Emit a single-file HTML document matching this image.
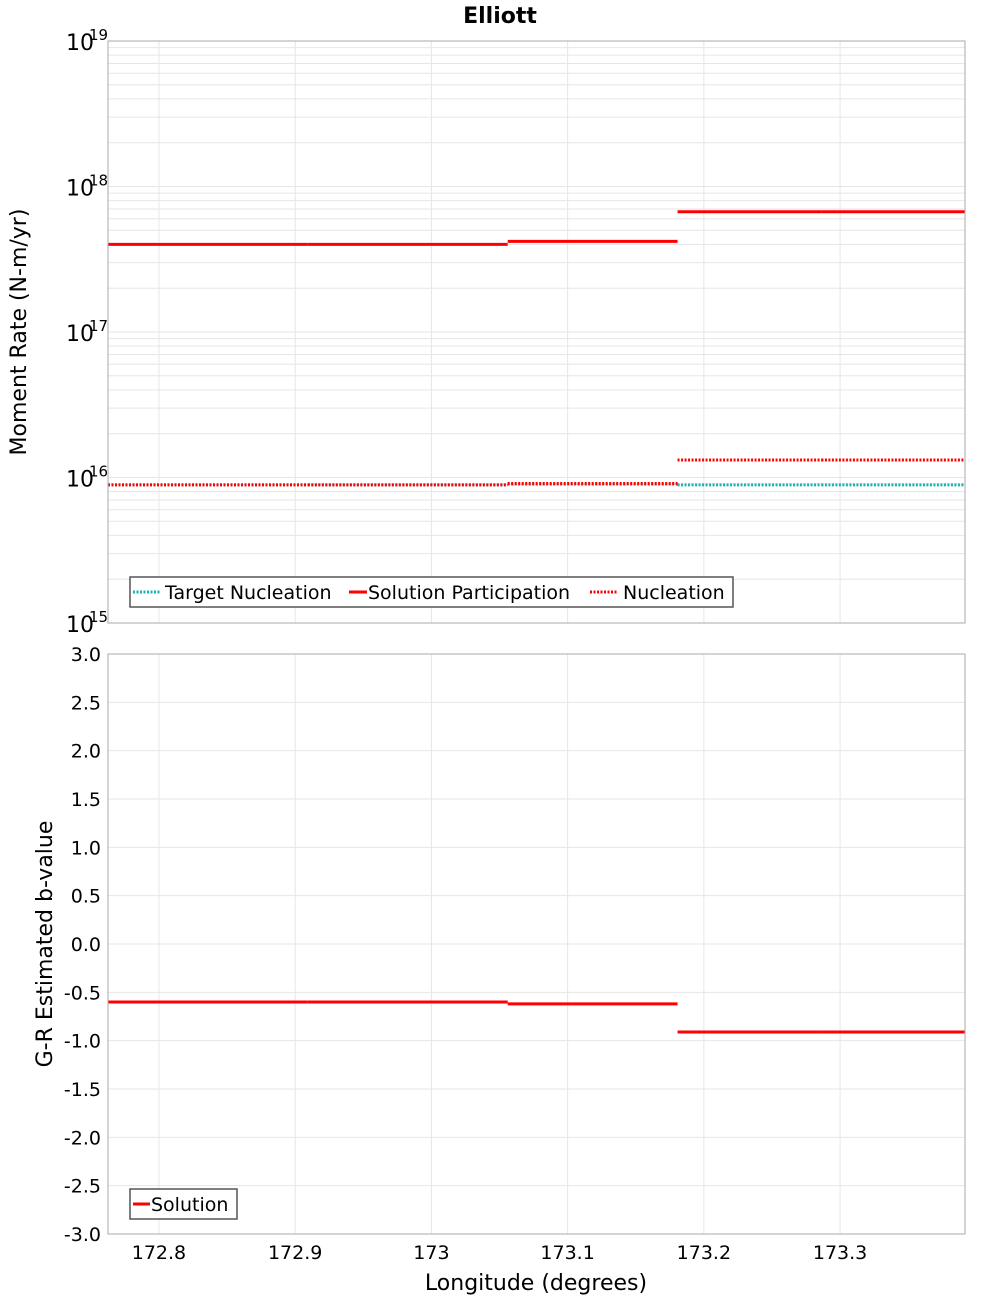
<!DOCTYPE html>
<html><head><meta charset="utf-8"><style>
body{margin:0;background:#fff;}
svg{display:block;font-family:"DejaVu Sans","Liberation Sans",sans-serif;}
</style></head><body>
<svg id="chart" width="1000" height="1300" viewBox="0 0 1000 1300" xmlns="http://www.w3.org/2000/svg">
<text x="500" y="23" text-anchor="middle" font-size="22" font-weight="bold">Elliott</text>
<g id="topPanel"></g>
<g id="botPanel"></g>
<text transform="translate(26,332) rotate(-90)" text-anchor="middle" font-size="22">Moment Rate (N-m/yr)</text>
<text transform="translate(52,944) rotate(-90)" text-anchor="middle" font-size="22">G-R Estimated b-value</text>
<text x="536" y="1290" text-anchor="middle" font-size="22">Longitude (degrees)</text>
</svg>
<script>
const segStarts = [172.7626, 172.9093, 173.056, 173.1807, 173.2863];
const segEnds   = [172.9093, 173.056, 173.1807, 173.2863, 173.3917];
const participation = [4.0e17, 4.0e17, 4.2e17, 6.7e17, 6.7e17];
const nucleation = [8.9e15, 8.9e15, 9.1e15, 1.32e16, 1.32e16];
const targetNucleation = [8.9e15, 8.9e15, 9.0e15, 8.9e15, 8.9e15];
const bValues = [-0.6, -0.6, -0.62, -0.91, -0.91];
const xTicks = [172.8, 172.9, 173.0, 173.1, 173.2, 173.3];
const xTickLabels = ["172.8", "172.9", "173", "173.1", "173.2", "173.3"];
const logExps = [15, 16, 17, 18, 19];
const bTicks = [3.0, 2.5, 2.0, 1.5, 1.0, 0.5, 0.0, -0.5, -1.0, -1.5, -2.0, -2.5, -3.0];

const NS = "http://www.w3.org/2000/svg";
const L = 108, R = 965;
const xMin = 172.7626, xMax = 173.3917;
const X = v => L + (v - xMin) / (xMax - xMin) * (R - L);
const T1 = 41, B1 = 623, T2 = 654, B2 = 1234;
const Yl = v => T1 + (19 - Math.log10(v)) / 4 * (B1 - T1);
const Yb = v => T2 + (3 - v) / 6 * (B2 - T2);

function mk(parent, tag, attrs, text) {
  const e = document.createElementNS(NS, tag);
  for (const k in attrs) e.setAttribute(k, attrs[k]);
  if (text !== undefined) e.textContent = text;
  parent.appendChild(e);
  return e;
}
const topG = document.getElementById('topPanel'), botG = document.getElementById('botPanel');

for (let ex = 15; ex < 19; ex++) for (let m = 1; m < 10; m++) {
  const y = Yl(m * Math.pow(10, ex));
  const g = mk(topG, 'line', {x1: L, x2: R, y1: y, y2: y, stroke: '#e6e6e6', 'stroke-width': 1});
  
  
}
xTicks.forEach(v => {
  const g = mk(topG, 'line', {x1: X(v), x2: X(v), y1: T1, y2: B1, stroke: '#e6e6e6'});
  
  
  const g2 = mk(botG, 'line', {x1: X(v), x2: X(v), y1: T2, y2: B2, stroke: '#e6e6e6'});
  
  
});
bTicks.forEach(v => {
  const g = mk(botG, 'line', {x1: L, x2: R, y1: Yb(v), y2: Yb(v), stroke: '#e6e6e6'});
  
  
  const t = mk(botG, 'text', {x: 101, y: Yb(v) + 7, 'text-anchor': 'end', 'font-size': 19}, v.toFixed(1));
  
  
});
logExps.forEach(ex => {
  const y = Yl(Math.pow(10, ex));
  const t = mk(topG, 'text', {x: 66, y: y + 9, 'font-size': 22}, '10');
  
  
  const s = mk(topG, 'text', {x: 89, y: y - 1, 'font-size': 15}, String(ex));
  
  
});
xTicks.forEach((v, i) => {
  const t = mk(botG, 'text', {x: X(v), y: 1259, 'text-anchor': 'middle', 'font-size': 19}, xTickLabels[i]);
  
  
});

function seg(parent, arr, yf, color, dash, name) {
  arr.forEach((v, i) => {
    const a = {x1: X(segStarts[i]), x2: X(segEnds[i]), y1: yf(v), y2: yf(v), stroke: color, 'stroke-width': 3};
    if (dash) a['stroke-dasharray'] = '2,1.5';
    const e = mk(parent, 'line', a);
    
    
  });
}
seg(topG, targetNucleation, Yl, '#17b3b3', true, 'target-nucleation-segment');
seg(topG, nucleation, Yl, '#ff0000', true, 'nucleation-segment');
seg(topG, participation, Yl, '#ff0000', false, 'solution-participation-segment');
seg(botG, bValues, Yb, '#ff0000', false, 'b-value-segment');

const f1 = mk(topG, 'rect', {x: L, y: T1, width: R - L, height: B1 - T1, fill: 'none', stroke: '#aaa'});


const f2 = mk(botG, 'rect', {x: L, y: T2, width: R - L, height: B2 - T2, fill: 'none', stroke: '#aaa'});



const lg = mk(topG, 'g', {});


mk(lg, 'rect', {x: 130, y: 577, width: 603, height: 30, fill: '#fff', stroke: '#555', 'stroke-width': 1.5});
const items = [[133, 165, '#17b3b3', true, 'Target Nucleation'], [349, 368, '#ff0000', false, 'Solution Participation'], [590, 623, '#ff0000', true, 'Nucleation']];
items.forEach(it => {
  const a = {x1: it[0], x2: it[0] + 28 - (it[3] ? 0 : 10), y1: 592, y2: 592, stroke: it[2], 'stroke-width': 3};
  if (it[3]) a['stroke-dasharray'] = '2,1.5';
  const l = mk(lg, 'line', a);
  
  
  const t = mk(lg, 'text', {x: it[1], y: 599, 'font-size': 19}, it[4]);
  
  
});
const lg2 = mk(botG, 'g', {});


mk(lg2, 'rect', {x: 130, y: 1189, width: 107, height: 30, fill: '#fff', stroke: '#555', 'stroke-width': 1.5});
mk(lg2, 'line', {x1: 133, x2: 150, y1: 1204, y2: 1204, stroke: '#ff0000', 'stroke-width': 3});
const st = mk(lg2, 'text', {x: 151, y: 1211, 'font-size': 19}, 'Solution');


</script>
</body></html>
